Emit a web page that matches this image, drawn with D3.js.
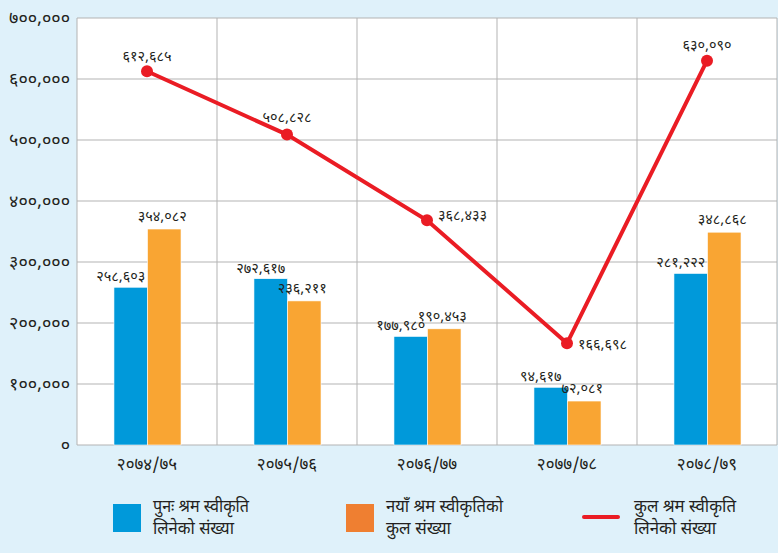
<!DOCTYPE html>
<html>
<head>
<meta charset="utf-8">
<script src="https://cdn.jsdelivr.net/npm/d3@7"></script>
<style>
  body { margin: 0; background: #dff1fa; }
  svg { display: block; }
  .num { font-family: "Noto Sans Devanagari", "Noto Sans", sans-serif; fill: #231f20; }
  .leg { font-family: "Noto Sans Devanagari", "Noto Sans", sans-serif; fill: #231f20; font-size: 18px; }
</style>
</head>
<body>
<div id="chart"></div>
<script>
// वर्षहरू र श्रम स्वीकृति संख्या
const years = ['2074/75', '2075/76', '2076/77', '2077/78', '2078/79'];
const renewal = [258603, 272617, 177980, 94617, 281222];   // पुनः श्रम स्वीकृति
const fresh = [354082, 236211, 190453, 72081, 348868];     // नयाँ श्रम स्वीकृति
const total = [612685, 508828, 368433, 166698, 630090];     // कुल
const yTicks = [0, 100000, 200000, 300000, 400000, 500000, 600000, 700000];

// अंकलाई देवनागरीमा
const devDigits = '०१२३४५६७८९';
const toDev = s => String(s).replace(/[0-9]/g, d => devDigits[+d]);
const fmt = v => toDev(d3.format(',')(v));

const W = 778, H = 553;
const margin = { top: 18, right: 1, bottom: 108, left: 77 };
const width = W - margin.left - margin.right;
const height = H - margin.top - margin.bottom;

const svg = d3.select('#chart').append('svg')
    .attr('width', W).attr('height', H);

svg.append('rect').attr('width', W).attr('height', H).attr('fill', '#dff1fa');

const g = svg.append('g').attr('transform', `translate(${margin.left},${margin.top})`);

g.append('rect').attr('width', width).attr('height', height).attr('fill', '#fff');

const x = d3.scaleBand().domain(years).range([0, width]);
const y = d3.scaleLinear().domain([0, 700000]).range([height, 0]);
const xs = d3.scaleBand().domain(['r', 'f']).range([x.bandwidth() * 0.264, x.bandwidth() * 0.743]);

// ग्रिड
g.selectAll('.hgrid').data(yTicks).join('line')
    .attr('x1', 0).attr('x2', width)
    .attr('y1', d => y(d)).attr('y2', d => y(d))
    .attr('stroke', '#b3b3b3').attr('stroke-width', 1);

g.selectAll('.vgrid').data(years.concat(['end'])).join('line')
    .attr('x1', (d, i) => i * x.bandwidth()).attr('x2', (d, i) => i * x.bandwidth())
    .attr('y1', 0).attr('y2', height)
    .attr('stroke', '#b3b3b3').attr('stroke-width', 1);

// y अक्ष लेबल
g.selectAll('.ylab').data(yTicks).join('text')
    .attr('class', 'num')
    .attr('x', -7).attr('y', d => y(d))
    .attr('dy', '0.35em')
    .attr('text-anchor', 'end')
    .attr('font-size', 18)
    .text(d => fmt(d));

// x अक्ष लेबल
g.selectAll('.xlab').data(years).join('text')
    .attr('class', 'num')
    .attr('x', d => x(d) + x.bandwidth() / 2)
    .attr('y', height + 25)
    .attr('text-anchor', 'middle')
    .attr('font-size', 17)
    .text(d => toDev(d));

// बारहरू
const groups = g.selectAll('.grp').data(years).join('g')
    .attr('transform', d => `translate(${x(d)},0)`);

groups.append('rect')
    .attr('x', xs('r')).attr('width', xs.bandwidth())
    .attr('y', (d, i) => y(renewal[i])).attr('height', (d, i) => height - y(renewal[i]))
    .attr('fill', '#0099da').attr('stroke', '#fff').attr('stroke-width', 0.6);

groups.append('rect')
    .attr('x', xs('f')).attr('width', xs.bandwidth())
    .attr('y', (d, i) => y(fresh[i])).attr('height', (d, i) => height - y(fresh[i]))
    .attr('fill', '#f9a533').attr('stroke', '#fff').attr('stroke-width', 0.6);

groups.append('text')
    .attr('class', 'num').attr('font-size', 14.5)
    .attr('x', xs('r') + xs.bandwidth() / 2 - 10)
    .attr('y', (d, i) => y(renewal[i]) - 6)
    .attr('text-anchor', 'middle')
    .text((d, i) => fmt(renewal[i]));

groups.append('text')
    .attr('class', 'num').attr('font-size', 14.5)
    .attr('x', xs('f') + xs.bandwidth() / 2 - 2)
    .attr('y', (d, i) => y(fresh[i]) - 8)
    .attr('text-anchor', 'middle')
    .text((d, i) => fmt(fresh[i]));

// कुल रेखा
const cx = d => x(d) + x.bandwidth() / 2;
const line = d3.line().x(d => cx(d)).y((d, i) => y(total[i]));
g.append('path').datum(years)
    .attr('d', line)
    .attr('fill', 'none').attr('stroke', '#ea1c24').attr('stroke-width', 4);

g.selectAll('.pt').data(years).join('circle')
    .attr('cx', d => cx(d)).attr('cy', (d, i) => y(total[i]))
    .attr('r', 6).attr('fill', '#ea1c24');

// कुल लेबलको स्थान
const totalLabelPos = [
    { dx: 0, dy: -10, anchor: 'middle' },
    { dx: 0, dy: -13, anchor: 'middle' },
    { dx: 11, dy: 0, anchor: 'start' },
    { dx: 11, dy: 6, anchor: 'start' },
    { dx: 0, dy: -11, anchor: 'middle' }
];
g.selectAll('.tlab').data(years).join('text')
    .attr('class', 'num').attr('font-size', 14.5)
    .attr('x', (d, i) => cx(d) + totalLabelPos[i].dx)
    .attr('y', (d, i) => y(total[i]) + totalLabelPos[i].dy)
    .attr('text-anchor', (d, i) => totalLabelPos[i].anchor)
    .text((d, i) => fmt(total[i]));

// लेजेन्ड
const legend = svg.append('g').attr('class', 'legend');
const legendData = [
    { x: 113, color: '#0099da', type: 'rect', lines: ['पुनः श्रम स्वीकृति', 'लिनेको संख्या'], widths: [96, 81] },
    { x: 346, color: '#ef7f31', type: 'rect', lines: ['नयाँ श्रम स्वीकृतिको', 'कुल संख्या'], widths: [117, 65] },
    { x: 582, color: '#ea1c24', type: 'line', lines: ['कुल श्रम स्वीकृति', 'लिनेको संख्या'], widths: [102, 82] }
];
legendData.forEach(d => {
    if (d.type === 'rect') {
        legend.append('rect').attr('x', d.x).attr('y', 504).attr('width', 28).attr('height', 28).attr('fill', d.color);
    } else {
        legend.append('line').attr('x1', d.x + 2).attr('x2', d.x + 36).attr('y1', 517).attr('y2', 517)
            .attr('stroke', d.color).attr('stroke-width', 4).attr('stroke-linecap', 'round');
    }
    const tx = d.type === 'rect' ? d.x + 40 : d.x + 52;
    d.lines.forEach((t, j) => {
        legend.append('text').attr('class', 'leg')
            .attr('x', tx).attr('y', 512 + j * 22)
            .attr('textLength', d.widths[j])
            .attr('lengthAdjust', 'spacingAndGlyphs')
            .text(t);
    });
});
</script>
</body>
</html>
